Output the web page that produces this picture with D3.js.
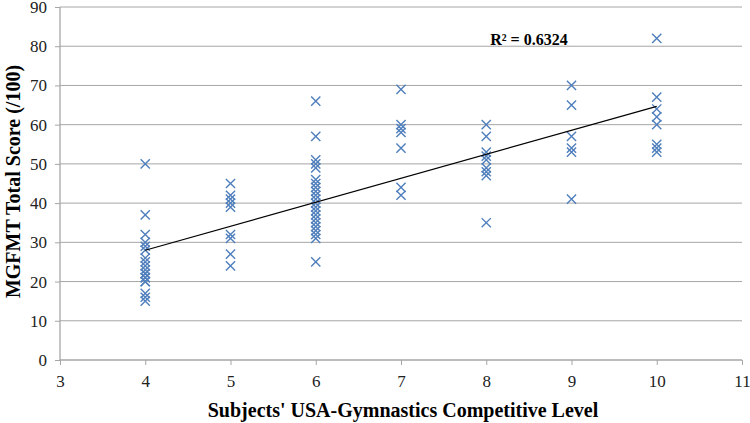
<!DOCTYPE html>
<html>
<head>
<meta charset="utf-8">
<script src="https://cdn.jsdelivr.net/npm/d3@7"></script>
<style>
  body { margin: 0; background: #fff; }
  svg { display: block; }
</style>
</head>
<body>
<div id="graph"></div>
<script>
// scores, grouped by level
const levels = [4, 5, 6, 7, 8, 9, 10];
const level4 = [50, 37, 32, 30, 29, 28, 26, 25, 24, 23, 22, 22, 21, 21, 20, 20, 17, 16, 15];
const level5 = [45, 42, 41, 40, 39, 32, 31, 27, 24];
const level6 = [66, 57, 51, 50, 49, 46, 45, 44, 43, 42, 41, 40, 39, 38, 37, 36, 35, 34, 33, 32, 31, 25];
const level7 = [69, 60, 59, 58, 54, 44, 42];
const level8 = [60, 57, 53, 52, 51, 49, 48, 47, 35];
const level9 = [70, 65, 57, 54, 53, 41];
const level10 = [82, 67, 64, 62, 60, 55, 54, 53];
const xTicks = [3, 4, 5, 6, 7, 8, 9, 10, 11];
const yTicks = [0, 10, 20, 30, 40, 50, 60, 70, 80, 90];
const r2Label = "R² = 0.6324";

const W = 750, H = 423;
const M = { left: 60, right: 8, top: 7, bottom: 63 };

const svg = d3.select("#graph").append("svg").attr("width", W).attr("height", H);

const groups = [level4, level5, level6, level7, level8, level9, level10];
const points = [];
groups.forEach((g, i) => g.forEach(v => points.push([levels[i], v])));

const x = d3.scaleLinear().domain([3, 11]).range([M.left, W - M.right]);
const y = d3.scaleLinear().domain([0, 90]).range([H - M.bottom, M.top]);

/* gridlines */
svg.append("g")
    .selectAll("line")
    .data(yTicks.filter(d => d > 0))
    .enter().append("line")
    .attr("x1", x(3)).attr("x2", x(11))
    .attr("y1", d => y(d)).attr("y2", d => y(d))
    .attr("stroke", "#a6a6a6").attr("stroke-width", 1);

/* axes */
const xAxis = d3.axisBottom(x).tickValues(xTicks).tickSize(5).tickPadding(10);
const yAxis = d3.axisLeft(y).tickValues(yTicks).tickSize(5).tickPadding(8);

const gx = svg.append("g").attr("transform", "translate(0," + y(0) + ")").call(xAxis);
const gy = svg.append("g").attr("transform", "translate(" + x(3) + ",0)").call(yAxis);

[gx, gy].forEach(g => {
    g.select(".domain").attr("stroke", "#a6a6a6").attr("stroke-width", 1.3);
    g.selectAll(".tick line").attr("stroke", "#a6a6a6");
    g.selectAll(".tick text")
        .attr("fill", "#222")
        .style("font-family", "'Liberation Serif', serif")
        .style("font-size", "17px");
});
gx.select(".domain").attr("d", "M" + x(3) + ",0H" + x(11));
gy.select(".domain").attr("d", "M0," + y(90) + "V" + y(0));

/* markers */
const s = 4.6;
svg.append("g")
    .selectAll("path")
    .data(points)
    .enter().append("path")
    .attr("d", d => {
        const cx = x(d[0]), cy = y(d[1]);
        return "M" + (cx - s) + "," + (cy - s) + "L" + (cx + s) + "," + (cy + s) +
            "M" + (cx - s) + "," + (cy + s) + "L" + (cx + s) + "," + (cy - s);
    })
    .attr("stroke", "#4f7fbc").attr("stroke-width", 1.4).attr("fill", "none");

/* linear trendline */
const mx = d3.mean(points, d => d[0]), my = d3.mean(points, d => d[1]);
const slope = d3.sum(points, d => (d[0] - mx) * (d[1] - my)) / d3.sum(points, d => (d[0] - mx) * (d[0] - mx));
const icpt = my - slope * mx;
const xr = d3.extent(levels);
svg.append("line")
    .attr("x1", x(xr[0])).attr("y1", y(icpt + slope * xr[0]))
    .attr("x2", x(xr[1])).attr("y2", y(icpt + slope * xr[1]))
    .attr("stroke", "#000").attr("stroke-width", 1.2);

svg.append("text")
    .attr("x", x(8) + 4).attr("y", y(80) - 1)
    .attr("text-anchor", "start")
    .style("font-family", "'Liberation Serif', serif")
    .style("font-weight", "bold")
    .style("font-size", "16px")
    .text(r2Label);

/* titles */
svg.append("text")
    .attr("x", (x(3) + x(11)) / 2 + 2).attr("y", H - 6)
    .attr("text-anchor", "middle")
    .style("font-family", "'Liberation Serif', serif")
    .style("font-weight", "bold")
    .style("font-size", "20px")
    .text("Subjects' USA-Gymnastics Competitive Level");

svg.append("text")
    .attr("transform", "translate(20," + (y(45) - 2) + ") rotate(-90)")
    .attr("text-anchor", "middle")
    .style("font-family", "'Liberation Serif', serif")
    .style("font-weight", "bold")
    .style("font-size", "20px")
    .text("MGFMT Total Score (/100)");
</script>
</body>
</html>
